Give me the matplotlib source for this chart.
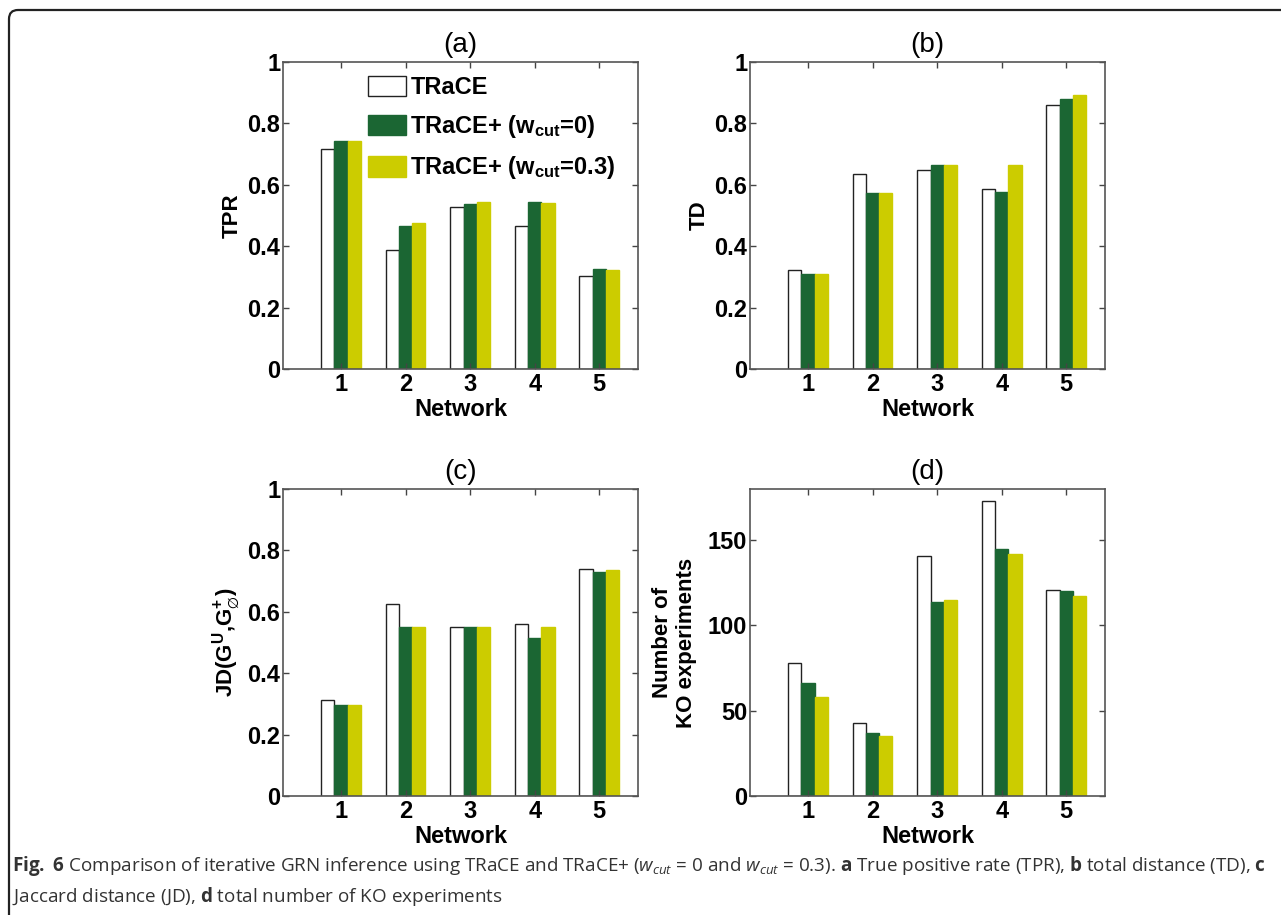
import matplotlib
matplotlib.use('Agg')
import matplotlib.pyplot as plt
import numpy as np
from matplotlib.patches import FancyBboxPatch

networks = [1, 2, 3, 4, 5]
series = ['TRaCE', r'TRaCE+ (w$_{\mathsf{cut}}$=0)', r'TRaCE+ (w$_{\mathsf{cut}}$=0.3)']
colors = ['white', '#1b6633', '#cccc00']

tpr_trace = [0.716, 0.387, 0.529, 0.466, 0.304]
tpr_w0 = [0.744, 0.466, 0.539, 0.545, 0.327]
tpr_w03 = [0.744, 0.476, 0.545, 0.542, 0.322]

td_trace = [0.324, 0.635, 0.647, 0.586, 0.859]
td_w0 = [0.308, 0.572, 0.663, 0.578, 0.879]
td_w03 = [0.308, 0.572, 0.663, 0.663, 0.894]

jd_trace = [0.312, 0.625, 0.551, 0.561, 0.739]
jd_w0 = [0.295, 0.552, 0.552, 0.516, 0.730]
jd_w03 = [0.295, 0.549, 0.552, 0.552, 0.736]

ko_trace = [78, 43, 141, 173, 121]
ko_w0 = [66, 37, 114, 145, 120]
ko_w03 = [58, 35, 115, 142, 117]

main_font = 'Liberation Sans'
cap_font = 'Open Sans'

plt.rcParams['font.family'] = [main_font, 'DejaVu Sans']
plt.rcParams['mathtext.fontset'] = 'custom'
plt.rcParams['mathtext.rm'] = main_font
plt.rcParams['mathtext.sf'] = main_font + ':bold'
plt.rcParams['mathtext.bf'] = cap_font + ':bold'
plt.rcParams['mathtext.it'] = cap_font + ':italic'

fig = plt.figure(figsize=(12.81, 9.15), dpi=100)

# outer frame of the journal figure
frame = FancyBboxPatch((9, -30), 1400, 935, boxstyle='round,pad=0,rounding_size=9',
                       transform=None, fill=False, edgecolor='#222222', linewidth=1.6)
fig.patches.append(frame)

W, H = 1281, 915
def box(l, t, r, b):
    return [l / W, 1 - b / H, (r - l) / W, (b - t) / H]

panels = [
    ('(a)', 'TPR', box(283, 62, 638, 369), (tpr_trace, tpr_w0, tpr_w03), (0, 1)),
    ('(b)', 'TD', box(750, 62, 1105, 369), (td_trace, td_w0, td_w03), (0, 1)),
    ('(c)', r'JD(G$^{\mathsf{U}}$,G$^{\mathsf{+}}_{\varnothing}$)', box(283, 489, 638, 796),
     (jd_trace, jd_w0, jd_w03), (0, 1)),
    ('(d)', 'Number of\nKO experiments', box(750, 489, 1105, 796), (ko_trace, ko_w0, ko_w03), (0, 180)),
]

x = np.array(networks)
w = 0.205
for title, ylab, pos, data, ylim in panels:
    ax = fig.add_axes(pos)
    for i, vals in enumerate(data):
        ec = '#222222' if i == 0 else colors[i]
        ax.bar(x + (i - 1) * w, vals, width=w, color=colors[i], edgecolor=ec,
               linewidth=1.0, label=series[i])
    ax.set_xlim(0.1, 5.6)
    ax.set_ylim(*ylim)
    ax.set_xticks(networks)
    if ylim[1] == 1:
        ax.set_yticks([0, 0.2, 0.4, 0.6, 0.8, 1])
        ax.set_yticklabels(['0', '0.2', '0.4', '0.6', '0.8', '1'])
    else:
        ax.set_yticks([0, 50, 100, 150])
    ax.tick_params(direction='in', top=True, right=True, length=4, width=1,
                   color='#444444', labelsize=17)
    ax.tick_params(axis='y', pad=2)
    ax.tick_params(axis='x', pad=3)
    for lab in ax.get_xticklabels() + ax.get_yticklabels():
        lab.set_fontweight('bold')
    for s in ax.spines.values():
        s.set_color('#555555')
        s.set_linewidth(1.2)
    ax.set_title(title, fontsize=20, pad=7)
    ax.set_xlabel('Network', fontsize=17, fontweight='bold', labelpad=1)
    if title == '(d)':
        ax.set_ylabel(ylab, fontsize=16, fontweight='bold', labelpad=8, linespacing=1.2)
    else:
        ax.set_ylabel(ylab, fontsize=16, fontweight='bold', labelpad=3)
    if title == '(a)':
        ax.legend(loc='upper left', bbox_to_anchor=(0.239, 0.955), frameon=False,
                  prop={'size': 17, 'weight': 'bold'}, handlelength=1.6,
                  handleheight=0.95, labelspacing=0.6, handletextpad=0.2,
                  borderaxespad=0, borderpad=0)

cap_color = '#333333'
line1 = (r'$\mathbf{Fig.\ 6}$ Comparison of iterative GRN inference using TRaCE and TRaCE+ '
         r'($w_{cut}$ = 0 and $w_{cut}$ = 0.3). $\mathbf{a}$ True positive rate (TPR), '
         r'$\mathbf{b}$ total distance (TD), $\mathbf{c}$')
line2 = r'Jaccard distance (JD), $\mathbf{d}$ total number of KO experiments'
t1 = fig.text(12 / W, 1 - 866 / H, line1, fontsize=14, family=cap_font, color=cap_color, va='center')
t2 = fig.text(12 / W, 1 - 896 / H, line2, fontsize=14, family=cap_font, color=cap_color, va='center')

# shrink the caption so that the first line spans the frame as in the print
renderer = fig.canvas.get_renderer()
width = t1.get_window_extent(renderer).width
size = 14 * 1258 / width
t1.set_fontsize(size)
t2.set_fontsize(size)

fig.savefig('out.png', dpi=100)
